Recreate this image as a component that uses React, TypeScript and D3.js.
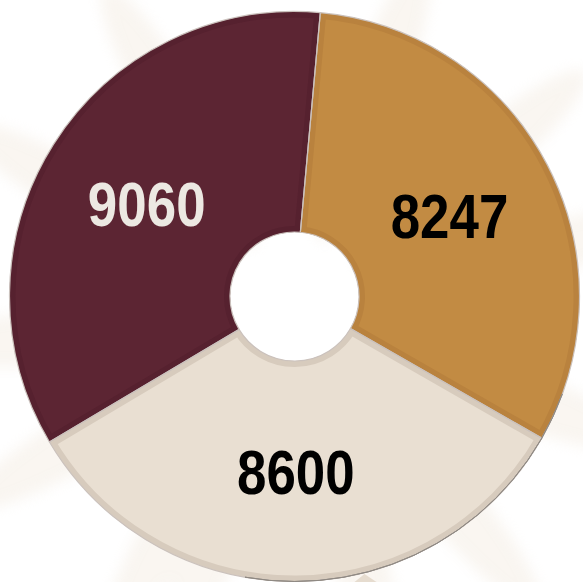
import React from "react";
import * as d3 from "d3";

const categories = ["A", "B", "C"];
const values = [8247, 8600, 9060];
const labels = ["8247", "8600", "9060"];
const fills = ["#c28b43", "#e9dfd2", "#5c2533"];
const borders = ["#b9823e", "#d7cbbd", "#56212f"];
const labelColors = ["#000000", "#000000", "#ece8e2"];

const W = 583;
const H = 582;
const cx = 294.5;
const cy = 296.5;
const outerR = 285;
const innerR = 64.5;
const startDeg = 5.2;

export default function App() {
  const pie = d3
    .pie<number>()
    .sort(null)
    .value((d) => d)
    .startAngle((startDeg * Math.PI) / 180)
    .endAngle((startDeg * Math.PI) / 180 + 2 * Math.PI);
  const arcs = pie(values);
  const arc = d3.arc<d3.PieArcDatum<number>>().innerRadius(innerR).outerRadius(outerR);
  const shadeArc = d3
    .arc()
    .innerRadius(outerR)
    .outerRadius(outerR)
    .startAngle((110 * Math.PI) / 180)
    .endAngle((190 * Math.PI) / 180);

  const streakAngles = [-150, -120, -95, -60, -30, 20, 50, 75, 110, 140, 165, 200];
  return (
    <svg
      width={W}
      height={H}
      style={{ position: "absolute", left: 0, top: 0, background: "#ffffff" }}
    >
      <defs>
        <filter id="blur" x="-50%" y="-50%" width="200%" height="200%">
          <feGaussianBlur stdDeviation="7" />
        </filter>
        {arcs.map((a, i) => (
          <clipPath id={`clip${i}`} key={i}>
            <path d={arc(a) || ""} />
          </clipPath>
        ))}
      </defs>
      <g filter="url(#blur)" opacity={0.35}>
        {streakAngles.map((ang, i) => (
          <ellipse
            key={i}
            cx={0}
            cy={-230}
            rx={28}
            ry={150}
            fill="#efe4d6"
            transform={`translate(${cx},${cy + 20}) rotate(${ang})`}
          />
        ))}
      </g>
      <path
        d={`M ${cx + 70} ${H - 8} L ${cx + 82} ${H} L ${cx + 60} ${H} Z`}
        fill="#e6dccf"
      />
      <g transform={`translate(${cx},${cy})`}>
        {arcs.map((a, i) => (
          <path key={i} d={arc(a) || ""} fill={fills[i]} />
        ))}
        {arcs.map((a, i) => (
          <path
            key={`b${i}`}
            d={arc(a) || ""}
            fill="none"
            stroke={borders[i]}
            strokeWidth={12}
            clipPath={`url(#clip${i})`}
          />
        ))}
        {arcs.map((a, i) => (
          <path
            key={`o${i}`}
            d={arc(a) || ""}
            fill="none"
            stroke="#cbc2bd"
            strokeWidth={1.2}
          />
        ))}
        <path d={(shadeArc as any)({}) || ""} fill="none" stroke="#8f8983" strokeWidth={1} />
        {arcs.map((a, i) => {
          const [x, y] = arc.centroid(a);
          return (
            <text
              key={`t${i}`}
              transform={`translate(${x},${y}) scale(0.84,1)`}
              dy="0.36em"
              textAnchor="middle"
              fill={labelColors[i]}
              fontFamily="'Liberation Sans', Arial, sans-serif"
              fontWeight="bold"
              fontSize={63}
            >
              {labels[i]}
            </text>
          );
        })}
      </g>
    </svg>
  );
}
